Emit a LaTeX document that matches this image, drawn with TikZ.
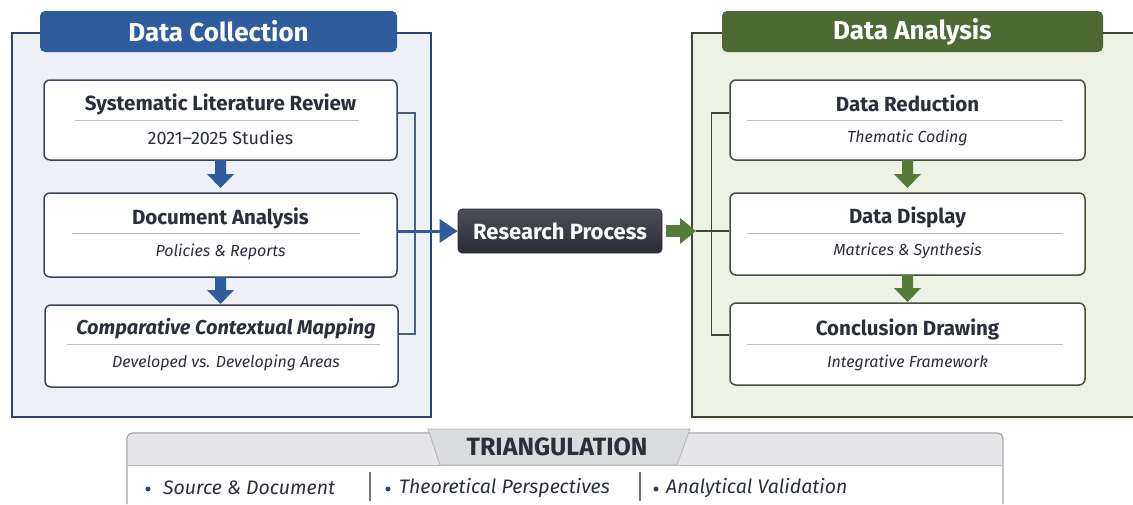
\documentclass[tikz,border=0pt]{standalone}
\usepackage{fontspec}
\setmainfont{Fira Sans}
\usetikzlibrary{arrows.meta,calc}
\definecolor{blueT}{HTML}{2F5C9C}
\definecolor{blueA}{HTML}{2F5C9C}
\definecolor{bordL}{HTML}{2E4468}
\definecolor{bgL}{HTML}{EDF1F7}
\definecolor{boxL}{HTML}{3A4558}
\definecolor{brkL}{HTML}{4F5F7A}
\definecolor{greenT}{HTML}{4E6A34}
\definecolor{greenA}{HTML}{567A3A}
\definecolor{bordR}{HTML}{3C4834}
\definecolor{bgR}{HTML}{EEF2E5}
\definecolor{boxR}{HTML}{454E3E}
\definecolor{txt}{HTML}{2A2F3A}
\definecolor{divc}{HTML}{B9BDC4}
\definecolor{rpTop}{HTML}{4C4F58}
\definecolor{rpBot}{HTML}{2A2C32}
\definecolor{trBand}{HTML}{E6E6E8}
\definecolor{trTab}{HTML}{DADBDD}
\definecolor{trBord}{HTML}{A2A4A8}
\definecolor{trSep}{HTML}{6E737C}
\tikzset{
  panelL/.style={draw=bordL, fill=bgL, line width=1.5pt, inner sep=0pt},
  panelR/.style={draw=bordR, fill=bgR, line width=1.5pt, inner sep=0pt},
  tabL/.style={fill=blueT, rounded corners=5pt, inner sep=0pt, text=white, font=\bfseries\fontsize{26}{28}\selectfont},
  tabR/.style={tabL, fill=greenT},
  boxA/.style={draw=boxL, fill=white, line width=1.5pt, rounded corners=6pt, inner sep=0pt, minimum width=353pt},
  boxB/.style={boxA, draw=boxR, minimum width=355pt},
  ttl/.style={text=txt, font=\bfseries\fontsize{20.5}{23}\selectfont, inner sep=0pt},
  sub/.style={text=txt, font=\fontsize{18}{20}\selectfont, inner sep=0pt},
  subit/.style={text=txt, font=\itshape\fontsize{16}{18}\selectfont, inner sep=0pt},
  divline/.style={draw=divc, line width=0.7pt},
  downL/.style={fill=blueA, draw=none},
  downR/.style={fill=greenA, draw=none},
  brkLs/.style={draw=brkL, line width=1.5pt},
  brkRs/.style={draw=bordR, line width=1.5pt},
  itm/.style={text=txt, font=\itshape\fontsize{19.5}{22}\selectfont, inner sep=0pt, anchor=west},
  bul/.style={circle, fill=bordL, inner sep=0pt, minimum size=5pt},
}
\begin{document}
\begin{tikzpicture}[x=1pt,y=-1pt]
\useasboundingbox (0,0) rectangle (1133,504);
\fill[white] (0,0) rectangle (1133,504);
\begin{scope}
\clip (0,0) rectangle (1133,504);
% panels
\node[panelL, minimum width=419pt, minimum height=384pt] (lp) at (221.5,225) {};
\node[panelR, minimum width=460pt, minimum height=384pt] (rp2) at (922,225) {};
\node[tabL, minimum width=357pt, minimum height=41pt] (lt) at (218.5,31.5) {Data Collection};
\node[tabR, minimum width=381pt, minimum height=41pt] (rt) at (912.5,31.5) {Data Analysis};

% left boxes
\node[boxA, minimum height=80pt] (b1) at (220.5,120) {};
\node[boxA, minimum height=84pt] (b2) at (220.5,235) {};
\node[boxA, minimum height=82pt] (b3) at (221.5,346) {};
\node[ttl] (b1t) at (220.5,104) {Systematic Literature Review};
\node[sub] (b1s) at (220.5,138) {2021–2025 Studies};
\draw[divline] (75,120) -- (359,120);
\node[ttl] (b2t) at (220.5,218) {Document Analysis};
\node[subit] (b2s) at (220.5,252) {Policies \& Reports};
\draw[divline] (72,233) -- (360,233);
\node[ttl, font=\bfseries\itshape\fontsize{20}{23}\selectfont] (b3t) at (226,329) {Comparative Contextual Mapping};
\node[subit] (b3s) at (226,363) {Developed vs. Developing Areas};
\draw[divline] (67,344) -- (380,344);

% left down arrows
\fill[downL] (215,160) -- (226,160) -- (226,174) -- (234,174) -- (220.5,188) -- (207,174) -- (215,174) -- cycle;
\fill[downL] (215,277) -- (226,277) -- (226,290) -- (234,290) -- (220.5,304) -- (207,290) -- (215,290) -- cycle;

% right boxes
\node[boxB, minimum height=80pt] (rb1) at (907.5,120) {};
\node[boxB, minimum height=82pt] (rb2) at (907.5,234) {};
\node[boxB, minimum height=82pt] (rb3) at (907.5,344) {};
\node[ttl] (rb1t) at (907.5,103) {Data Reduction};
\node[subit] (rb1s) at (907.5,138) {Thematic Coding};
\draw[divline] (747,120) -- (1063,120);
\node[ttl] (rb2t) at (907.5,217) {Data Display};
\node[subit] (rb2s) at (907.5,251) {Matrices \& Synthesis};
\draw[divline] (747,233) -- (1063,233);
\node[ttl] (rb3t) at (907.5,329) {Conclusion Drawing};
\node[subit] (rb3s) at (907.5,363) {Integrative Framework};
\draw[divline] (747,344) -- (1063,344);

\fill[downR] (902,160) -- (913,160) -- (913,174) -- (921,174) -- (907.5,188) -- (894,174) -- (902,174) -- cycle;
\fill[downR] (902,275) -- (913,275) -- (913,288) -- (921,288) -- (907.5,302) -- (894,288) -- (902,288) -- cycle;

% research process
\node[draw=rpBot, line width=0.6pt, top color=rpTop, bottom color=rpBot, rounded corners=4pt,
      minimum width=204pt, minimum height=44pt, inner sep=0pt, text=white,
      font=\bfseries\fontsize{22}{24}\selectfont] (rp) at (560,231) {Research Process};

% left bracket and blue arrow
\draw[brkLs] ([yshift=7pt]b1.east) -- ++(17,0) |- ([yshift=12pt]b3.east);
\draw[draw=blueA, line width=3pt, -{Triangle[length=18pt,width=23pt]}] (b2.east |- rp.west) -- (rp.west);

% green arrow and bracket
\coordinate (gtip) at (696,231);
\draw[draw=greenA, line width=12pt, -{Triangle[length=16pt,width=25pt]}] (rp.east) ++(4,0) -- (gtip);
\draw[brkRs] ([yshift=7pt]rb1.west) -- ++(-18,0) |- ([yshift=9pt]rb3.west);
\draw[brkRs] (gtip) -- (rb2.west |- gtip);
\end{scope}

% triangulation
\begin{scope}
\clip (0,0) rectangle (1133,504);
\fill[trBand, rounded corners=6pt] (127.6,433.6) rectangle (1002.4,470);
\fill[white] (127.6,465.6) rectangle (1002.4,504);
\draw[trBord, line width=1.2pt, rounded corners=6pt] (127,504) -- (127,433) -- (1003,433) -- (1003,504);
\draw[trBord!70, line width=0.8pt] (127,465) -- (1003,465);
\filldraw[fill=trTab, draw=trBord!80, line width=0.8pt] (428,429) -- (690,429) -- (677,465) -- (440,465) -- cycle;
\node[text=txt, font=\bfseries\fontsize{25}{27}\selectfont, inner sep=0pt] (trt) at (557,447) {TRIANGULATION};
\node[bul] (d1) at (148,489) {};
\node[itm] (i1) at (163,488) {Source \& Document};
\node[bul] (d2) at (388,489) {};
\node[itm] (i2) at (399,488) {Theoretical Perspectives};
\node[bul] (d3) at (656,489) {};
\node[itm] (i3) at (666,488) {Analytical Validation};
\draw[trSep, line width=1.2pt] (370,472) -- (370,501);
\draw[trSep, line width=1.2pt] (640,472) -- (640,501);
\end{scope}
\end{tikzpicture}
\end{document}
